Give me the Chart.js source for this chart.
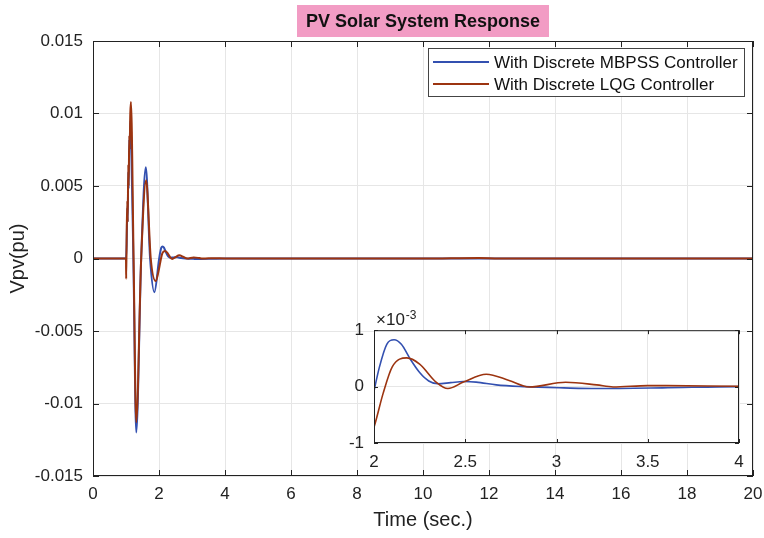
<!DOCTYPE html>
<html>
<head>
<meta charset="utf-8">
<script src="https://cdn.jsdelivr.net/npm/chart.js@4.4.0/dist/chart.umd.min.js"></script>
<style>
body{margin:0;background:#fff}
#wrap{position:relative;width:764px;height:538px}
#main{position:absolute;left:0;top:0}
#inset{position:absolute;left:330px;top:310px}
</style>
</head>
<body>
<div id="wrap">
<canvas id="main" width="764" height="538"></canvas>
<canvas id="inset" width="420" height="180"></canvas>
</div>
<script>
// data
var mbpssTime = [0, 0.5, 0.99, 1.0, 1.02, 1.04, 1.05, 1.07, 1.08, 1.10, 1.11, 1.13, 1.15, 1.23, 1.31, 1.46, 1.60, 1.73, 1.86, 2.0, 2.03, 2.07, 2.11, 2.15, 2.2, 2.25, 2.3, 2.35, 2.42, 2.49, 2.56, 2.67, 2.82, 3.04, 3.22, 3.58, 4.0, 5, 6, 8, 10, 12, 14, 16, 18, 20];
var mbpssValues = [0, 0, 0, 0, 0.001, 0.0035, 0.0025, 0.006, 0.0048, 0.0082, 0.0075, 0.0095, 0.0088, -0.001, -0.0120, 0.0, 0.0063, 0, -0.00232, -0.00008, 0.00035, 0.00075, 0.00083, 0.00075, 0.00048, 0.00025, 0.0001, 0.00005, 0.00007, 0.00009, 0.00008, 0.00003, 0, -0.000023, -0.000035, -0.000023, 0, 0, 0, 0, 0, 0, 0, 0, 0, 0];
var lqgTime = [0, 0.5, 0.99, 1.0, 1.005, 1.02, 1.04, 1.05, 1.07, 1.08, 1.10, 1.11, 1.13, 1.15, 1.23, 1.31, 1.46, 1.61, 1.75, 1.90, 2.0, 2.05, 2.10, 2.18, 2.25, 2.34, 2.405, 2.49, 2.615, 2.74, 2.85, 3.05, 3.22, 3.31, 3.5, 3.6, 4.0, 5, 6, 8, 10, 11.7, 12.3, 14, 16, 18, 20];
var lqgValues = [0, 0, 0, 0, -0.0014, 0.0015, 0.004, 0.0025, 0.0065, 0.005, 0.0085, 0.0075, 0.0100, 0.0108, 0.0, -0.0113, 0, 0.0054, 0, -0.00156, -0.00072, -0.00012, 0.00035, 0.00051, 0.00040, 0.00008, -0.000035, 0.00008, 0.00022, 0.00011, -0.000006, 0.000076, 0.00003, -0.000006, 0.000018, 0.000018, 0.000006, 0, 0, 0, 0, 0.00004, 0, 0, 0, 0, 0];
var seriesNames = ['With Discrete MBPSS Controller', 'With Discrete LQG Controller'];
var seriesColors = ['#3350b0', '#9c3410'];

var FONT = '"Liberation Sans", Arial, sans-serif';
var gridColor = '#e6e6e6';

function pts(t, v) {
  return t.map(function (x, i) { return {x: x, y: v[i]}; });
}

function makeData(w) {
  return {
    datasets: [
      {label: seriesNames[0], data: pts(mbpssTime, mbpssValues), borderColor: seriesColors[0], borderWidth: w, order: 1},
      {label: seriesNames[1], data: pts(lqgTime, lqgValues), borderColor: seriesColors[1], borderWidth: w, order: 0}
    ]
  };
}

function fmt(v) { return String(parseFloat(v.toFixed(4))); }

// fixed axis sizes so the plot box lands where the figure has it
function fixX(h) {
  return function (s) { s.height = h; s.paddingLeft = 0; s.paddingRight = 0; };
}

// box around the axes + ticks pointing inward (matlab look)
function boxPlugin(len) {
  return {
    id: 'box',
    beforeDraw: function (chart) {
      var a = chart.chartArea, c = chart.ctx;
      c.save();
      c.fillStyle = '#fff';
      c.fillRect(a.left, a.top, a.right - a.left, a.bottom - a.top);
      c.restore();
    },
    afterDraw: function (chart) {
      var a = chart.chartArea, c = chart.ctx;
      var xs = chart.scales.x, ys = chart.scales.y;
      c.save();
      c.strokeStyle = '#222';
      c.lineWidth = 1;
      c.strokeRect(a.left + 0.5, a.top + 0.5, a.right - a.left - 1, a.bottom - a.top - 1);
      c.beginPath();
      xs.ticks.forEach(function (t) {
        var p = Math.round(xs.getPixelForValue(t.value)) + 0.5;
        c.moveTo(p, a.bottom); c.lineTo(p, a.bottom - len);
        c.moveTo(p, a.top); c.lineTo(p, a.top + len);
      });
      ys.ticks.forEach(function (t) {
        var p = Math.round(ys.getPixelForValue(t.value)) + 0.5;
        c.moveTo(a.left, p); c.lineTo(a.left + len, p);
        c.moveTo(a.right, p); c.lineTo(a.right - len, p);
      });
      c.stroke();
      c.restore();
    }
  };
}

var extras = {
  id: 'extras',
  afterDraw: function (chart) {
    var c = chart.ctx;
    c.save();
    // title box
    c.fillStyle = '#f29cc4';
    c.fillRect(297, 5, 252, 32);
    c.fillStyle = '#111';
    c.font = 'bold 18px ' + FONT;
    c.textAlign = 'center';
    c.textBaseline = 'middle';
    c.fillText('PV Solar System Response', 423, 22);
    // legend
    c.fillStyle = '#fff';
    c.fillRect(428, 48, 316, 48);
    c.strokeStyle = '#444';
    c.lineWidth = 1;
    c.strokeRect(428.5, 48.5, 316, 48);
    c.font = '17px ' + FONT;
    c.textAlign = 'left';
    chart.data.datasets.forEach(function (ds, i) {
      var y = 62 + i * 22;
      c.strokeStyle = ds.borderColor;
      c.lineWidth = 2;
      c.beginPath();
      c.moveTo(433, y); c.lineTo(489, y);
      c.stroke();
      c.fillStyle = '#111';
      c.fillText(ds.label, 494, y + 1);
    });
    c.restore();
  }
};

Chart.defaults.font.family = FONT;
Chart.defaults.color = '#222';

new Chart(document.getElementById('main'), {
  type: 'line',
  data: makeData(2),
  options: {
    responsive: false,
    animation: false,
    devicePixelRatio: 1,
    elements: {point: {radius: 0}, line: {cubicInterpolationMode: 'monotone'}},
    layout: {padding: {top: 41, right: 11, left: 0, bottom: 0}},
    plugins: {legend: {display: false}, tooltip: {enabled: false}},
    scales: {
      x: {
        type: 'linear', min: 0, max: 20,
        afterFit: fixX(62),
        ticks: {stepSize: 2, padding: 8, font: {size: 17}, maxRotation: 0, callback: fmt},
        grid: {color: gridColor, drawTicks: false},
        border: {display: false},
        title: {display: true, text: 'Time (sec.)', font: {size: 20}, padding: {top: 0, bottom: 6}}
      },
      y: {
        min: -0.015, max: 0.015,
        afterFit: function (s) { s.width = 93; },
        ticks: {stepSize: 0.005, padding: 10, font: {size: 17}, callback: fmt},
        grid: {color: gridColor, drawTicks: false},
        border: {display: false},
        title: {display: true, text: 'Vpv(pu)', font: {size: 20}, padding: {top: 6, bottom: 0}}
      }
    }
  },
  plugins: [boxPlugin(6), extras]
});

var expLabel = {
  id: 'expLabel',
  afterDraw: function (chart) {
    var a = chart.chartArea, c = chart.ctx;
    c.save();
    c.fillStyle = '#222';
    c.textAlign = 'left';
    c.textBaseline = 'alphabetic';
    c.font = '17px ' + FONT;
    c.fillText('\u00d710', a.left + 2, a.top - 5);
    var w = c.measureText('\u00d710').width;
    c.font = '12px ' + FONT;
    c.fillText('-3', a.left + 3 + w, a.top - 11);
    c.restore();
  }
};

new Chart(document.getElementById('inset'), {
  type: 'line',
  data: makeData(1.6),
  options: {
    responsive: false,
    animation: false,
    devicePixelRatio: 1,
    elements: {point: {radius: 0}, line: {cubicInterpolationMode: 'monotone'}},
    layout: {padding: {top: 19, right: 11, left: 0, bottom: 0}},
    plugins: {legend: {display: false}, tooltip: {enabled: false}},
    scales: {
      x: {
        type: 'linear', min: 2, max: 4,
        afterFit: fixX(47),
        ticks: {stepSize: 0.5, padding: 9, font: {size: 17}, maxRotation: 0, callback: fmt},
        grid: {color: gridColor, drawTicks: false},
        border: {display: false}
      },
      y: {
        min: -0.001, max: 0.001,
        afterFit: function (s) { s.width = 44; },
        ticks: {stepSize: 0.001, padding: 10, font: {size: 17},
          callback: function (v) { return String(Math.round(v * 1000)); }},
        grid: {color: gridColor, drawTicks: false},
        border: {display: false}
      }
    }
  },
  plugins: [boxPlugin(4), expLabel]
});
</script>
</body>
</html>
